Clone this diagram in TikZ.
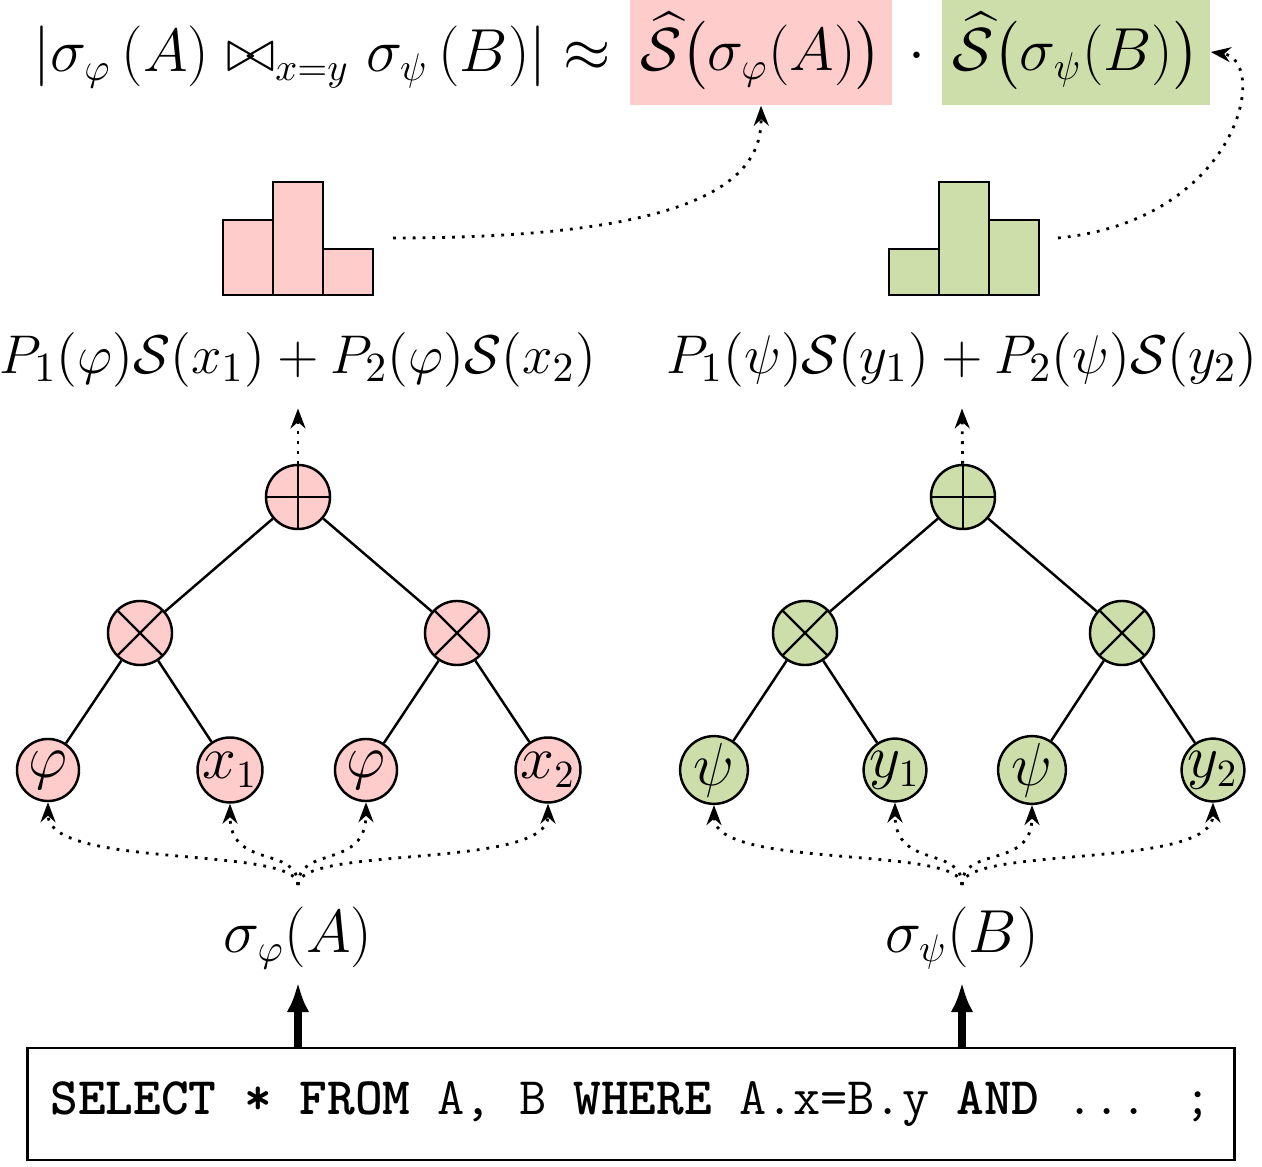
\documentclass[tikz,border=0pt]{standalone}
\usepackage{amsmath,amssymb,graphicx}
\usetikzlibrary{arrows.meta}
\definecolor{pinkfill}{RGB}{255,204,204}
\definecolor{olivefill}{RGB}{205,222,170}
\newcommand{\sumtext}[1]{\scalebox{1.077}{\fontsize{15.5}{19}\selectfont$#1$}}
\tikzset{
  gate/.style={draw, circle, minimum size=6.4mm, inner sep=0pt},
  plusgate/.style={gate, path picture={\draw (path picture bounding box.north) -- (path picture bounding box.south) (path picture bounding box.west) -- (path picture bounding box.east);}},
  timesgate/.style={gate, path picture={\draw (path picture bounding box.center) ++(45:4mm) -- ++(225:8mm) (path picture bounding box.center) ++(135:4mm) -- ++(315:8mm);}},
  leaf/.style={gate, minimum size=6.2mm},
  hint/.style={dotted, thick, -{Stealth[length=2mm]}},
  bar/.style={draw, thick},
}
\begin{document}
\begin{tikzpicture}[x=0.01cm, y=-0.01cm, font=\fontsize{16.2}{19}\selectfont, line width=0.7pt]
\useasboundingbox (0,0) rectangle (1262,1167);
% estimate
\node[anchor=east, inner sep=0pt] (est) at (612,57) {$\lvert\sigma_{\varphi}\,(A) \bowtie_{x=y} \sigma_{\psi}\,(B)\rvert \approx$};
\node[fill=pinkfill, minimum width=2.62cm, minimum height=1.05cm, inner sep=0pt] (estA) at (761,52) {$\widehat{\mathcal{S}}\bigl(\sigma_{\varphi}(A)\bigr)$};
\node (dot) at (917,57) {$\cdot$};
\node[fill=olivefill, minimum width=2.67cm, minimum height=1.05cm, inner sep=0pt] (estB) at (1076,52) {$\widehat{\mathcal{S}}\bigl(\sigma_{\psi}(B)\bigr)$};
% histograms
\draw[bar, fill=pinkfill] (223,220) rectangle (273,295) (273,182) rectangle (323,295) (323,249) rectangle (373,295);
\draw[bar, fill=olivefill] (889,249) rectangle (939,295) (939,182) rectangle (989,295) (989,220) rectangle (1039,295);
\coordinate (histA) at (393,238);
\coordinate (histB) at (1058,238);
\draw[hint] (histA) .. controls (700,238) and (762,180) .. (estA.south);
\draw[hint] (histB) .. controls (1240,220) and (1270,60) .. (estB.east);
% sums
\node[inner sep=0pt] (sumA) at (298,360) {\sumtext{P_1(\varphi)\mathcal{S}(x_1) + P_2(\varphi)\mathcal{S}(x_2)}};
\node[inner sep=0pt] (sumB) at (962,360) {\sumtext{P_1(\psi)\mathcal{S}(y_1) + P_2(\psi)\mathcal{S}(y_2)}};
% left circuit
\node[plusgate, fill=pinkfill] (plusA) at (298,497) {};
\node[timesgate, fill=pinkfill] (timesA1) at (140,633) {};
\node[timesgate, fill=pinkfill] (timesA2) at (457,633) {};
\node[leaf, fill=pinkfill] (phiA1) at (48,770) {$\varphi$};
\node[leaf, fill=pinkfill] (xA1) at (230,770) {$x_1$};
\node[leaf, fill=pinkfill] (phiA2) at (366,770) {$\varphi$};
\node[leaf, fill=pinkfill] (xA2) at (548,770) {$x_2$};
% right circuit
\node[plusgate, fill=olivefill] (plusB) at (963,497) {};
\node[timesgate, fill=olivefill] (timesB1) at (805,633) {};
\node[timesgate, fill=olivefill] (timesB2) at (1122,633) {};
\node[leaf, fill=olivefill] (psiB1) at (714,770) {$\psi$};
\node[leaf, fill=olivefill] (yB1) at (895,770) {$y_1$};
\node[leaf, fill=olivefill] (psiB2) at (1032,770) {$\psi$};
\node[leaf, fill=olivefill] (yB2) at (1213,770) {$y_2$};
\draw (plusA) -- (timesA1) (plusA) -- (timesA2) (timesA1) -- (phiA1) (timesA1) -- (xA1) (timesA2) -- (phiA2) (timesA2) -- (xA2);
\draw (plusB) -- (timesB1) (plusB) -- (timesB2) (timesB1) -- (psiB1) (timesB1) -- (yB1) (timesB2) -- (psiB2) (timesB2) -- (yB2);
\draw[hint] (plusA) -- ([yshift=-0.2cm]sumA.south);
\draw[hint] (plusB) -- ([yshift=-0.2cm]sumB.south);
% selections
\node (selA) at (298,938) {$\sigma_{\varphi}(A)$};
\node (selB) at (962,938) {$\sigma_{\psi}(B)$};
\coordinate (forkA) at (298,885);
\coordinate (forkB) at (962,885);
\foreach \leafname/\lx in {phiA1/48, xA1/230, phiA2/366, xA2/548}
  \draw[hint] (forkA) .. controls (298,845) and (\lx,870) .. (\leafname.south);
\foreach \leafname/\lx in {psiB1/714, yB1/895, psiB2/1032, yB2/1213}
  \draw[hint] (forkB) .. controls (962,845) and (\lx,870) .. (\leafname.south);
% query
\node[draw, thick, minimum width=12.07cm, minimum height=1.12cm, inner sep=0pt, font=\fontsize{15}{18}\selectfont\ttfamily] (query) at (631,1104)
  {\textbf{SELECT * FROM} A, B \textbf{WHERE} A.x=B.y \textbf{AND} ... ;};
\draw[-{Latex[length=3mm]}, line width=2.5pt] (query.north -| selA) -- (selA);
\draw[-{Latex[length=3mm]}, line width=2.5pt] (query.north -| selB) -- (selB);
\end{tikzpicture}
\end{document}
